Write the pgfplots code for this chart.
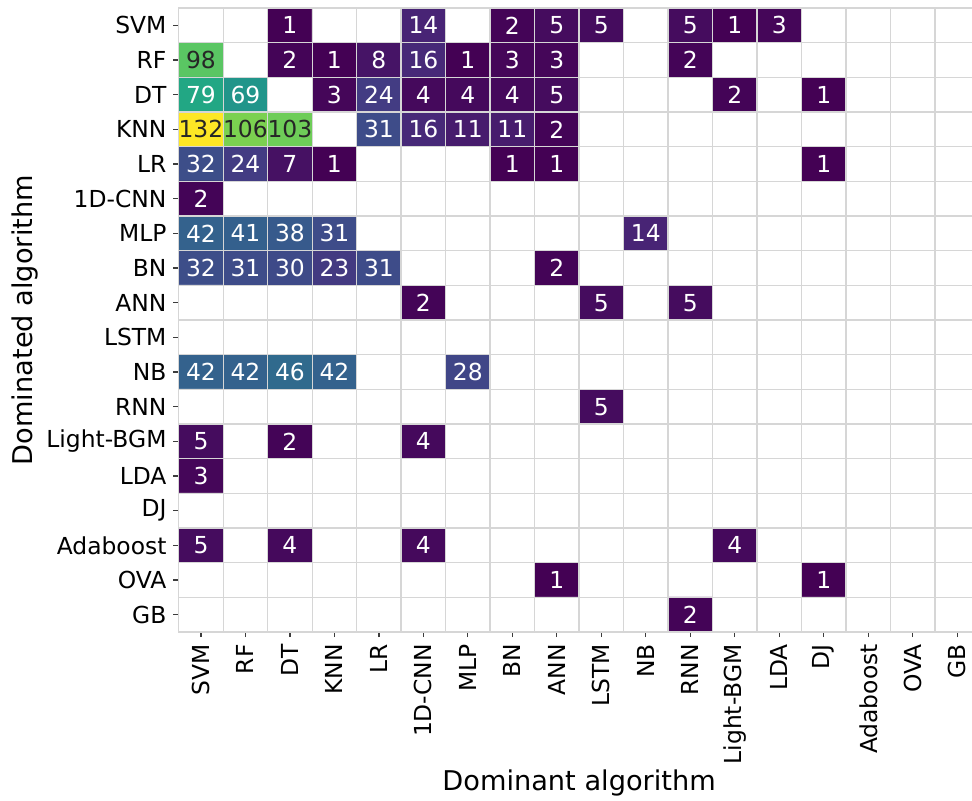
\documentclass[border=0pt]{standalone}
\usepackage{fontspec}
\setmainfont{DejaVu Sans}
\usepackage{pgfplots}
\pgfplotsset{compat=1.18}
\definecolor{gridgray}{RGB}{214,214,214}
\definecolor{darktext}{RGB}{38,38,38}
\definecolor{tickgray}{RGB}{60,60,60}
\newcommand{\tfont}{\fontsize{11.7}{14}\selectfont}
\newcommand{\lfont}{\fontsize{13.6}{16}\selectfont}
\begin{document}
\begin{tikzpicture}
\begin{axis}[
  name=ax,
  scale only axis,
  width=400.4pt, height=312pt,
  xmin=-0.5, xmax=17.5, ymin=-0.5, ymax=17.5,
  y dir=reverse,
  axis on top,
  colormap={vir}{rgb255(0pt)=(255,255,255) rgb255(150pt)=(255,255,255) rgb255(210pt)=(68,1,84) rgb255(341pt)=(72,36,117) rgb255(472pt)=(65,68,135) rgb255(603pt)=(53,95,141) rgb255(734pt)=(42,120,142) rgb255(865pt)=(33,145,140) rgb255(996pt)=(34,168,132) rgb255(1127pt)=(68,191,112) rgb255(1258pt)=(122,209,81) rgb255(1389pt)=(189,223,38) rgb255(1520pt)=(253,231,37)},
  xtick={0,...,17}, ytick={0,...,17},
  xticklabels={SVM,RF,DT,KNN,LR,1D-CNN,MLP,BN,ANN,LSTM,NB,RNN,Light-BGM,LDA,DJ,Adaboost,OVA,GB},
  yticklabels={SVM,RF,DT,KNN,LR,1D-CNN,MLP,BN,ANN,LSTM,NB,RNN,Light-BGM,LDA,DJ,Adaboost,OVA,GB},
  minor xtick={-0.5,0.5,1.5,2.5,3.5,4.5,5.5,6.5,7.5,8.5,9.5,10.5,11.5,12.5,13.5,14.5,15.5,16.5,17.5},
  minor ytick={-0.5,0.5,1.5,2.5,3.5,4.5,5.5,6.5,7.5,8.5,9.5,10.5,11.5,12.5,13.5,14.5,15.5,16.5,17.5},
  minor tick length=0pt,
  xminorgrids, yminorgrids,
  minor grid style={gridgray, line width=0.65pt},
  axis line style={gridgray, line width=0.65pt},
  tick align=outside, major tick length=2.6pt,
  tick style={tickgray, line width=0.6pt},
  xtick pos=bottom, ytick pos=left,
  x tick label style={font=\tfont, rotate=90, anchor=east, text=black},
  y tick label style={font=\tfont, anchor=east, text=black},
  xlabel={Dominant algorithm}, ylabel={Dominated algorithm},
  xlabel style={font=\lfont, at={(axis description cs:0.5,-0.242)}, anchor=center},
  ylabel style={font=\lfont, at={(axis description cs:-0.192,0.5)}, anchor=center, rotate=0},
]
\addplot[matrix plot*, mesh/cols=18, point meta=explicit, point meta min=-20, point meta max=132] coordinates {
(0,0)[-20] (1,0)[-20] (2,0)[1] (3,0)[-20] (4,0)[-20] (5,0)[14] (6,0)[-20] (7,0)[2] (8,0)[5] (9,0)[5] (10,0)[-20] (11,0)[5] (12,0)[1] (13,0)[3] (14,0)[-20] (15,0)[-20] (16,0)[-20] (17,0)[-20]
(0,1)[98] (1,1)[-20] (2,1)[2] (3,1)[1] (4,1)[8] (5,1)[16] (6,1)[1] (7,1)[3] (8,1)[3] (9,1)[-20] (10,1)[-20] (11,1)[2] (12,1)[-20] (13,1)[-20] (14,1)[-20] (15,1)[-20] (16,1)[-20] (17,1)[-20]
(0,2)[79] (1,2)[69] (2,2)[-20] (3,2)[3] (4,2)[24] (5,2)[4] (6,2)[4] (7,2)[4] (8,2)[5] (9,2)[-20] (10,2)[-20] (11,2)[-20] (12,2)[2] (13,2)[-20] (14,2)[1] (15,2)[-20] (16,2)[-20] (17,2)[-20]
(0,3)[132] (1,3)[106] (2,3)[103] (3,3)[-20] (4,3)[31] (5,3)[16] (6,3)[11] (7,3)[11] (8,3)[2] (9,3)[-20] (10,3)[-20] (11,3)[-20] (12,3)[-20] (13,3)[-20] (14,3)[-20] (15,3)[-20] (16,3)[-20] (17,3)[-20]
(0,4)[32] (1,4)[24] (2,4)[7] (3,4)[1] (4,4)[-20] (5,4)[-20] (6,4)[-20] (7,4)[1] (8,4)[1] (9,4)[-20] (10,4)[-20] (11,4)[-20] (12,4)[-20] (13,4)[-20] (14,4)[1] (15,4)[-20] (16,4)[-20] (17,4)[-20]
(0,5)[2] (1,5)[-20] (2,5)[-20] (3,5)[-20] (4,5)[-20] (5,5)[-20] (6,5)[-20] (7,5)[-20] (8,5)[-20] (9,5)[-20] (10,5)[-20] (11,5)[-20] (12,5)[-20] (13,5)[-20] (14,5)[-20] (15,5)[-20] (16,5)[-20] (17,5)[-20]
(0,6)[42] (1,6)[41] (2,6)[38] (3,6)[31] (4,6)[-20] (5,6)[-20] (6,6)[-20] (7,6)[-20] (8,6)[-20] (9,6)[-20] (10,6)[14] (11,6)[-20] (12,6)[-20] (13,6)[-20] (14,6)[-20] (15,6)[-20] (16,6)[-20] (17,6)[-20]
(0,7)[32] (1,7)[31] (2,7)[30] (3,7)[23] (4,7)[31] (5,7)[-20] (6,7)[-20] (7,7)[-20] (8,7)[2] (9,7)[-20] (10,7)[-20] (11,7)[-20] (12,7)[-20] (13,7)[-20] (14,7)[-20] (15,7)[-20] (16,7)[-20] (17,7)[-20]
(0,8)[-20] (1,8)[-20] (2,8)[-20] (3,8)[-20] (4,8)[-20] (5,8)[2] (6,8)[-20] (7,8)[-20] (8,8)[-20] (9,8)[5] (10,8)[-20] (11,8)[5] (12,8)[-20] (13,8)[-20] (14,8)[-20] (15,8)[-20] (16,8)[-20] (17,8)[-20]
(0,9)[-20] (1,9)[-20] (2,9)[-20] (3,9)[-20] (4,9)[-20] (5,9)[-20] (6,9)[-20] (7,9)[-20] (8,9)[-20] (9,9)[-20] (10,9)[-20] (11,9)[-20] (12,9)[-20] (13,9)[-20] (14,9)[-20] (15,9)[-20] (16,9)[-20] (17,9)[-20]
(0,10)[42] (1,10)[42] (2,10)[46] (3,10)[42] (4,10)[-20] (5,10)[-20] (6,10)[28] (7,10)[-20] (8,10)[-20] (9,10)[-20] (10,10)[-20] (11,10)[-20] (12,10)[-20] (13,10)[-20] (14,10)[-20] (15,10)[-20] (16,10)[-20] (17,10)[-20]
(0,11)[-20] (1,11)[-20] (2,11)[-20] (3,11)[-20] (4,11)[-20] (5,11)[-20] (6,11)[-20] (7,11)[-20] (8,11)[-20] (9,11)[5] (10,11)[-20] (11,11)[-20] (12,11)[-20] (13,11)[-20] (14,11)[-20] (15,11)[-20] (16,11)[-20] (17,11)[-20]
(0,12)[5] (1,12)[-20] (2,12)[2] (3,12)[-20] (4,12)[-20] (5,12)[4] (6,12)[-20] (7,12)[-20] (8,12)[-20] (9,12)[-20] (10,12)[-20] (11,12)[-20] (12,12)[-20] (13,12)[-20] (14,12)[-20] (15,12)[-20] (16,12)[-20] (17,12)[-20]
(0,13)[3] (1,13)[-20] (2,13)[-20] (3,13)[-20] (4,13)[-20] (5,13)[-20] (6,13)[-20] (7,13)[-20] (8,13)[-20] (9,13)[-20] (10,13)[-20] (11,13)[-20] (12,13)[-20] (13,13)[-20] (14,13)[-20] (15,13)[-20] (16,13)[-20] (17,13)[-20]
(0,14)[-20] (1,14)[-20] (2,14)[-20] (3,14)[-20] (4,14)[-20] (5,14)[-20] (6,14)[-20] (7,14)[-20] (8,14)[-20] (9,14)[-20] (10,14)[-20] (11,14)[-20] (12,14)[-20] (13,14)[-20] (14,14)[-20] (15,14)[-20] (16,14)[-20] (17,14)[-20]
(0,15)[5] (1,15)[-20] (2,15)[4] (3,15)[-20] (4,15)[-20] (5,15)[4] (6,15)[-20] (7,15)[-20] (8,15)[-20] (9,15)[-20] (10,15)[-20] (11,15)[-20] (12,15)[4] (13,15)[-20] (14,15)[-20] (15,15)[-20] (16,15)[-20] (17,15)[-20]
(0,16)[-20] (1,16)[-20] (2,16)[-20] (3,16)[-20] (4,16)[-20] (5,16)[-20] (6,16)[-20] (7,16)[-20] (8,16)[1] (9,16)[-20] (10,16)[-20] (11,16)[-20] (12,16)[-20] (13,16)[-20] (14,16)[1] (15,16)[-20] (16,16)[-20] (17,16)[-20]
(0,17)[-20] (1,17)[-20] (2,17)[-20] (3,17)[-20] (4,17)[-20] (5,17)[-20] (6,17)[-20] (7,17)[-20] (8,17)[-20] (9,17)[-20] (10,17)[-20] (11,17)[2] (12,17)[-20] (13,17)[-20] (14,17)[-20] (15,17)[-20] (16,17)[-20] (17,17)[-20]
};
\addplot[only marks, mark=none, point meta=explicit symbolic, nodes near coords,
  every node near coord/.append style={anchor=center, text=white, font=\tfont}] coordinates {
(2,0)[1] (5,0)[14] (7,0)[2] (8,0)[5] (9,0)[5] (11,0)[5] (12,0)[1] (13,0)[3]
(2,1)[2] (3,1)[1] (4,1)[8] (5,1)[16] (6,1)[1] (7,1)[3] (8,1)[3] (11,1)[2]
(0,2)[79] (1,2)[69] (3,2)[3] (4,2)[24] (5,2)[4] (6,2)[4] (7,2)[4] (8,2)[5] (12,2)[2] (14,2)[1]
(4,3)[31] (5,3)[16] (6,3)[11] (7,3)[11] (8,3)[2]
(0,4)[32] (1,4)[24] (2,4)[7] (3,4)[1] (7,4)[1] (8,4)[1] (14,4)[1]
(0,5)[2]
(0,6)[42] (1,6)[41] (2,6)[38] (3,6)[31] (10,6)[14]
(0,7)[32] (1,7)[31] (2,7)[30] (3,7)[23] (4,7)[31] (8,7)[2]
(5,8)[2] (9,8)[5] (11,8)[5]
(0,10)[42] (1,10)[42] (2,10)[46] (3,10)[42] (6,10)[28]
(9,11)[5]
(0,12)[5] (2,12)[2] (5,12)[4]
(0,13)[3]
(0,15)[5] (2,15)[4] (5,15)[4] (12,15)[4]
(8,16)[1] (14,16)[1]
(11,17)[2]
};
\addplot[only marks, mark=none, point meta=explicit symbolic, nodes near coords,
  every node near coord/.append style={anchor=center, text=darktext, font=\tfont}] coordinates {
(0,1)[98] (0,3)[132] (1,3)[106] (2,3)[103]
};
\end{axis}
\pgfresetboundingbox
\path[use as bounding box] ([shift={(-89.35pt,-84pt)}]ax.south west) rectangle ([shift={(396.65pt,316pt)}]ax.south west);
\end{tikzpicture}
\end{document}
